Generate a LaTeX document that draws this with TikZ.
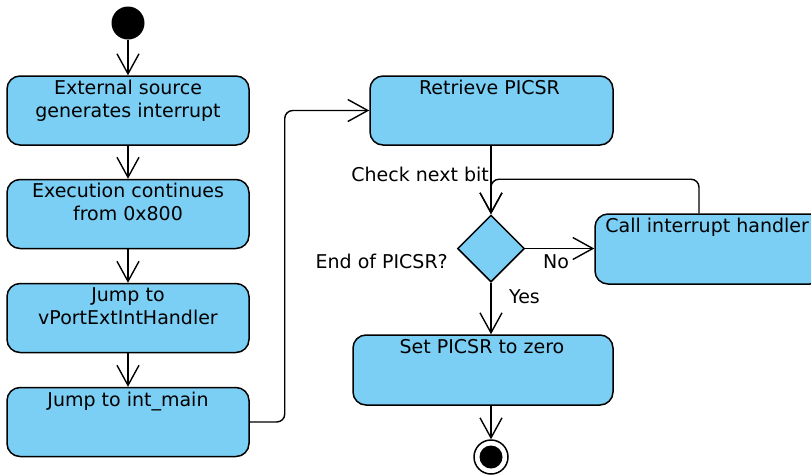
\documentclass[tikz,border=0pt]{standalone}
\usepackage{fontspec}
\setmainfont{DejaVu Sans}
\usetikzlibrary{arrows.meta,shapes.geometric,calc}
\definecolor{actfill}{HTML}{7BCEF4}
\begin{document}
\begin{tikzpicture}[x=1pt,y=-1pt,
  box/.style={draw=black, fill=actfill, line width=1.5pt, rounded corners=13pt,
              inner sep=0pt, minimum height=69pt},
  txt/.style={inner sep=0pt, font=\fontsize{19}{22}\selectfont},
  arr/.style={draw=black, line width=1.4pt,
              -{Straight Barb[length=20pt,width=22pt,line width=1.4pt]}}]
\useasboundingbox (0,0) rectangle (811,475);

% initial node
\node[circle, fill=black, minimum size=33pt, inner sep=0pt] (start) at (128,23) {};

% left column of actions
\node[box, minimum width=242pt] (b1) at (128,110.5) {};
\node[txt, anchor=base] (t1a) at ([yshift=-19pt]b1.north) {External source};
\node[txt, anchor=base] (t1b) at ([yshift=-42pt]b1.north) {generates interrupt};

\node[box, minimum width=242pt] (b2) at (128,214) {};
\node[txt, anchor=base] (t2a) at ([yshift=-19pt]b2.north) {Execution continues};
\node[txt, anchor=base] (t2b) at ([yshift=-42pt]b2.north) {from 0x800};

\node[box, minimum width=242pt] (b3) at (128,318) {};
\node[txt, anchor=base] (t3a) at ([yshift=-19pt]b3.north) {Jump to};
\node[txt, anchor=base] (t3b) at ([yshift=-42pt]b3.north) {vPortExtIntHandler};

\node[box, minimum width=242pt] (b4) at (128,422) {};
\node[txt, anchor=base] (t4) at ([yshift=-20pt]b4.north) {Jump to int\_main};

% right column
\node[box, minimum width=243pt] (b5) at (491.5,110.5) {};
\node[txt, anchor=base] (t5) at ([xshift=-2pt,yshift=-19pt]b5.north) {Retrieve PICSR};

\node[diamond, draw=black, fill=actfill, line width=1.5pt, inner sep=0pt,
      minimum width=67pt, minimum height=67pt] (d) at (491,248.5) {};

\node[box, minimum width=228pt, minimum height=70pt] (b6) at (709,249) {};
\node[txt, anchor=base west] (t6) at ([xshift=11pt,yshift=-19pt]b6.north west) {Call interrupt handler};

\node[box, minimum width=260pt, minimum height=70pt] (b7) at (483,370) {};
\node[txt, anchor=base] (t7) at ([xshift=-1pt,yshift=-19pt]b7.north) {Set PICSR to zero};

% final node
\node[circle, draw=black, fill=white, line width=1.5pt, minimum size=34pt,
      inner sep=0pt] (fin) at (491,457) {};
\node[circle, fill=black, minimum size=23pt, inner sep=0pt] (finin) at (fin) {};

% guard and branch labels
\node[txt, anchor=base east] (lcheck) at (489,181) {Check next bit};
\node[txt, anchor=base east] (lend) at (448,268) {End of PICSR?};
\node[txt, anchor=base west] (lno) at (543,268) {No};
\node[txt, anchor=base west] (lyes) at (509,303) {Yes};

% connectors
\draw[arr] (start) -- (b1);
\draw[arr] (b1) -- (b2);
\draw[arr] (b2) -- (b3);
\draw[arr] (b3) -- (b4);
\draw[arr, rounded corners=8pt] (b4.east) -- ++(35,0) |- (b5.west);
\draw[arr] (b5.south -| d.north) -- (d.north);
\draw[arr] (d.east) -- (b6.west |- d.east);
\draw[arr, rounded corners=8pt] ([xshift=-10pt]b6.north) -- ++(0,-34) -| (d.north);
\draw[arr] (d.south) -- (d.south |- b7.north);
\draw[arr] (fin.north |- b7.south) -- (fin.north);
\end{tikzpicture}
\end{document}
